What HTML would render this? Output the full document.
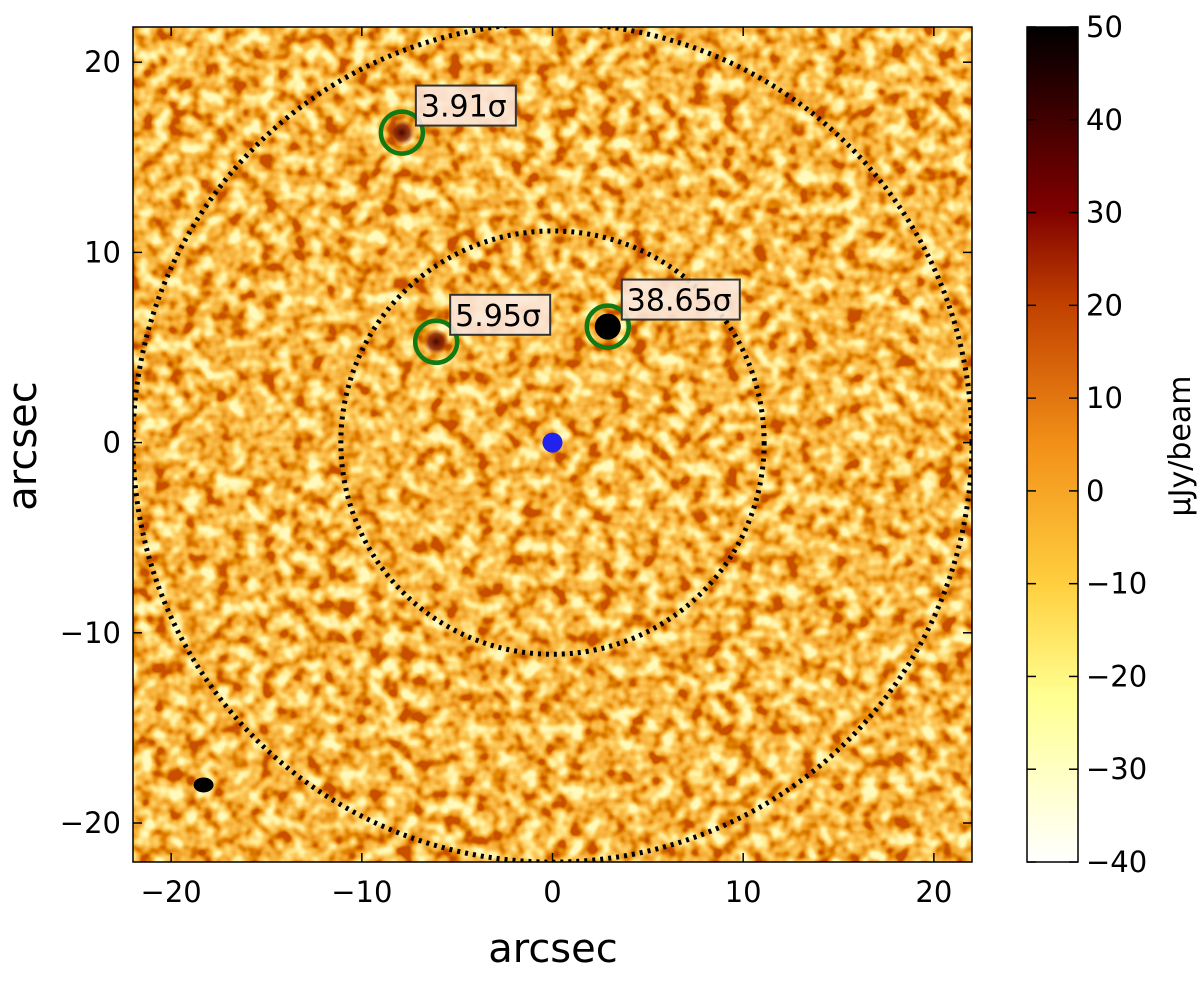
<!DOCTYPE html>
<html><head><meta charset="utf-8">
<style>
body{margin:0;background:#fff;width:1200px;height:976px;overflow:hidden;font-family:"Liberation Sans","DejaVu Sans",sans-serif}
svg text{font-family:"DejaVu Sans","Liberation Sans",sans-serif}
</style></head>
<body>
<svg id="chart" width="1200" height="976" viewBox="0 0 1200 976" xmlns="http://www.w3.org/2000/svg">
<defs>
<filter id="noise" x="0" y="0" width="100%" height="100%">
<feTurbulence type="fractalNoise" baseFrequency="0.065" numOctaves="2" seed="7" result="t"/>
<feColorMatrix type="matrix" in="t" values="2.2 0.3 0 0 -0.72  2.2 0.3 0 0 -0.72  2.2 0.3 0 0 -0.72  0 0 0 0 1" result="g"/>
<feComponentTransfer in="g">
<feFuncR type="table" tableValues="1 1 0.98 0.92 0.78 0.58"/>
<feFuncG type="table" tableValues="0.95 0.8 0.58 0.43 0.25 0.08"/>
<feFuncB type="table" tableValues="0.5 0.26 0.1 0.04 0 0"/>
</feComponentTransfer>
</filter>
<clipPath id="plotclip"><rect x="133" y="27" width="839" height="835"/></clipPath>
<linearGradient id="cbar" x1="0" y1="1" x2="0" y2="0">
<stop offset="0" stop-color="#ffffff"/>
<stop offset="0.2" stop-color="#ffff90"/>
<stop offset="0.33" stop-color="#ffd040"/>
<stop offset="0.5" stop-color="#f29018"/>
<stop offset="0.67" stop-color="#c04000"/>
<stop offset="0.78" stop-color="#800000"/>
<stop offset="1" stop-color="#000000"/>
</linearGradient>
<radialGradient id="blob"><stop offset="0" stop-color="#4a0600"/><stop offset="0.6" stop-color="#8a2000" stop-opacity="0.85"/><stop offset="1" stop-color="#b04000" stop-opacity="0"/></radialGradient>
</defs>
<g id="plot"></g>
<g id="cb"></g>
</svg>
<script>
const xTicks=[-20,-10,0,10,20];
const yTicks=[-20,-10,0,10,20];
const cbTicks=[-40,-30,-20,-10,0,10,20,30,40,50];
const srcX=[-7.9,-6.1,2.9];
const srcY=[16.3,5.3,6.1];
const srcLabels=["3.91σ","5.95σ","38.65σ"];
const srcFlux=[22,28,50];
const ringRadii=[11.1,22];
const cbMin=-40, cbMax=50;
const NS="http://www.w3.org/2000/svg";
const X0=133,X1=972,Y0=27,Y1=862,XMIN=-22,XMAX=22,YMIN=-22.05,YMAX=21.85;
const sx=v=>X0+(v-XMIN)/(XMAX-XMIN)*(X1-X0);
const sy=v=>Y1-(v-YMIN)/(YMAX-YMIN)*(Y1-Y0);
const pxPerArc=(X1-X0)/(XMAX-XMIN);
function mk(tag,attrs,parent){const e=document.createElementNS(NS,tag);for(const k in attrs)e.setAttribute(k,attrs[k]);parent.appendChild(e);return e;}
const plot=document.getElementById('plot');
const img=mk('rect',{x:X0,y:Y0,width:X1-X0,height:Y1-Y0,fill:'#f0a030',filter:'url(#noise)'},plot);


const cg=mk('g',{'clip-path':'url(#plotclip)'},plot);
srcX.forEach((x,i)=>{
  const big=srcFlux[i]>40;
  const b=mk('circle',{cx:sx(x),cy:sy(srcY[i]),r:13,fill:big?'#000':'url(#blob)'},cg);
  
  
});
ringRadii.forEach((r,i)=>{
  const c=mk('circle',{cx:sx(0),cy:sy(0),r:r*pxPerArc,fill:'none',stroke:'#000','stroke-width':5,'stroke-dasharray':'3 5'},cg);
  
  
});
const bd=mk('circle',{cx:sx(0),cy:sy(0),r:10,fill:'#2222ee'},cg);


const beam=mk('ellipse',{cx:sx(-18.3),cy:sy(-18),rx:10,ry:7.5,fill:'#000'},cg);


srcX.forEach((x,i)=>{
  const cx=sx(x),cy=sy(srcY[i]);
  const c=mk('circle',{cx:cx,cy:cy,r:21,fill:'none',stroke:'#137a13','stroke-width':4.5},cg);
  
  
  const w=srcLabels[i].length*18+10;
  const bx=cx+14,by=cy-47;
  const r=mk('rect',{x:bx,y:by,width:w,height:40,fill:'#fbe6da','fill-opacity':0.9,stroke:'#333','stroke-width':2},cg);
  
  
  const t=mk('text',{x:bx+5,y:by+31,'font-size':30,fill:'#000'},cg);
  t.textContent=srcLabels[i];
  
  
});
const fr=mk('rect',{x:X0,y:Y0,width:X1-X0,height:Y1-Y0,fill:'none',stroke:'#000','stroke-width':1.5},plot);


xTicks.forEach(v=>{
  const x=sx(v);
  mk('line',{x1:x,y1:Y1,x2:x,y2:Y1-9,stroke:'#000','stroke-width':1.5},plot);
  mk('line',{x1:x,y1:Y0,x2:x,y2:Y0+9,stroke:'#000','stroke-width':1.5},plot);
  const t=mk('text',{x:x,y:Y1+40,'font-size':29,'text-anchor':'middle'},plot);
  t.textContent=v<0?'−'+Math.abs(v):v;
  
  
});
yTicks.forEach(v=>{
  const y=sy(v);
  mk('line',{x1:X0,y1:y,x2:X0+9,y2:y,stroke:'#000','stroke-width':1.5},plot);
  mk('line',{x1:X1,y1:y,x2:X1-9,y2:y,stroke:'#000','stroke-width':1.5},plot);
  const t=mk('text',{x:X0-12,y:y+10,'font-size':29,'text-anchor':'end'},plot);
  t.textContent=v<0?'−'+Math.abs(v):v;
  
  
});
const xt=mk('text',{x:553,y:962,'font-size':40,'text-anchor':'middle'},plot);
xt.textContent='arcsec';


const yt=mk('text',{x:0,y:0,'font-size':40,'text-anchor':'middle',transform:'translate(36,446) rotate(-90)'},plot);
yt.textContent='arcsec';


const cb=document.getElementById('cb');
const CX0=1027,CX1=1078;
const cy=v=>Y1-(v-cbMin)/(cbMax-cbMin)*(Y1-Y0);
const cr=mk('rect',{x:CX0,y:Y0,width:CX1-CX0,height:Y1-Y0,fill:'url(#cbar)',stroke:'#000','stroke-width':1.5},cb);


cbTicks.forEach(v=>{
  const y=cy(v);
  mk('line',{x1:CX1,y1:y,x2:CX1-9,y2:y,stroke:'#000','stroke-width':1.5},cb);
  mk('line',{x1:CX0,y1:y,x2:CX0+9,y2:y,stroke:'#000','stroke-width':1.5},cb);
  const t=mk('text',{x:CX1+8,y:y+10,'font-size':29},cb);
  t.textContent=v<0?'−'+Math.abs(v):v;
  
  
});
const ct=mk('text',{x:0,y:0,'font-size':30,'text-anchor':'middle',transform:'translate(1190,446) rotate(-90)'},cb);
ct.textContent='µJy/beam';


</script>
</body></html>
